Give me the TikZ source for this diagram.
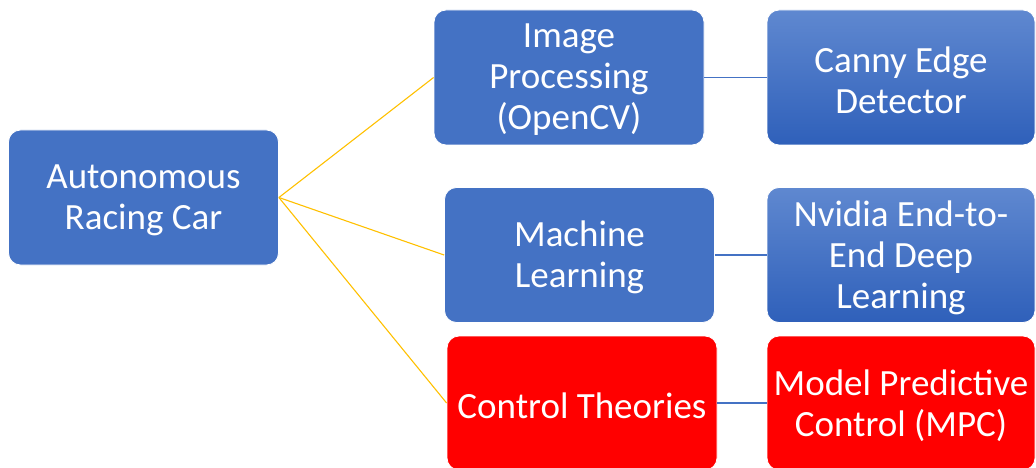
\documentclass[tikz,border=0pt]{standalone}
\usepackage{fontspec}
\setmainfont{Carlito}
\definecolor{boxblue}{HTML}{4472C4}
\definecolor{gradtop}{HTML}{5F88D0}
\definecolor{gradbot}{HTML}{2F60BA}
\definecolor{linkyellow}{HTML}{FFC000}
\definecolor{linkblue}{HTML}{4472C4}
\definecolor{boxred}{HTML}{FF0000}
\begin{document}
\begin{tikzpicture}[x=1pt,y=-1pt,
  boxbase/.style={rounded corners=12pt, inner sep=0pt, draw=white, line width=0.8pt},
  lbl/.style={align=center, text=white, inner sep=0pt, yshift=-2.5pt,
    font=\fontsize{37}{41}\selectfont},
  flatbox/.style={boxbase, fill=boxblue},
  gradbox/.style={boxbase, top color=gradtop, bottom color=gradbot},
  redbox/.style={boxbase, fill=boxred},
  ylink/.style={draw=linkyellow, line width=1.1pt},
  blink/.style={draw=linkblue, line width=1.3pt}]
\useasboundingbox (0,0) rectangle (1036,468);
\node[flatbox, minimum width=270pt, minimum height=135pt,
  label={[lbl]center:Autonomous\\Racing Car}] (root) at (143.5,197.5) {};
\node[flatbox, minimum width=270pt, minimum height=135pt,
  label={[lbl]center:Image\\Processing\\(OpenCV)}] (ip) at (569,77.5) {};
\node[gradbox, minimum width=268pt, minimum height=135pt,
  label={[lbl]center:Canny Edge\\Detector}] (ced) at (901,77.5) {};
\node[flatbox, minimum width=270pt, minimum height=135pt,
  label={[lbl]center:Machine\\Learning}] (ml) at (579.5,255) {};
\node[gradbox, minimum width=268pt, minimum height=135pt,
  label={[lbl]center:Nvidia End-to-\\End Deep\\Learning}] (nv) at (901,255) {};
\node[redbox, minimum width=270pt, minimum height=134pt,
  label={[lbl]center:Control Theories}] (ct) at (582,403) {};
\node[redbox, minimum width=268pt, minimum height=134pt,
  label={[lbl]center:Model Predictive\\Control (MPC)}] (mpc) at (901,403) {};
\draw[ylink] (root.east) -- (ip.west);
\draw[ylink] (root.east) -- (ml.west);
\draw[ylink] (root.east) -- (ct.west);
\draw[blink] (ip.east) -- (ced.west);
\draw[blink] (ml.east) -- (nv.west);
\draw[blink] (ct.east) -- (mpc.west);
\end{tikzpicture}
\end{document}
